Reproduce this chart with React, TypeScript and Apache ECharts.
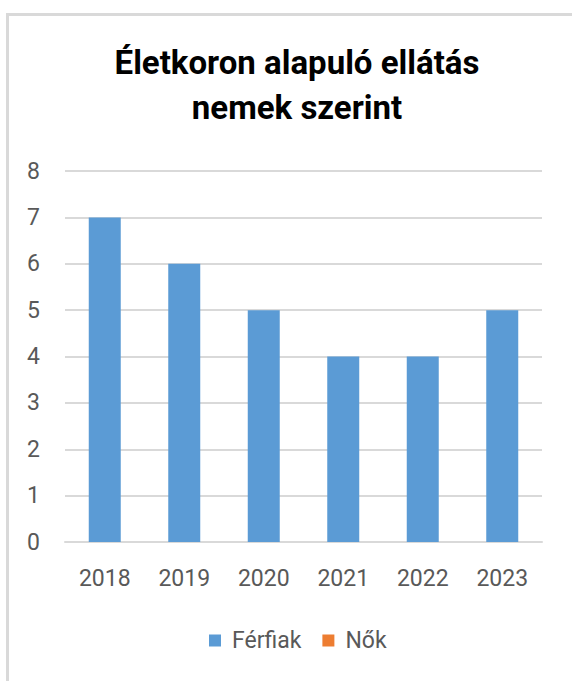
import React, { useEffect, useRef } from "react";
import * as echarts from "echarts";

const categories = ["2018", "2019", "2020", "2021", "2022", "2023"];
const ferfiak = [7, 6, 5, 4, 4, 5];
const nok: (number | null)[] = [null, null, null, null, null, null];
const yTicks = { min: 0, max: 8, interval: 1 };

export default function App() {
  const ref = useRef<HTMLDivElement>(null);
  useEffect(() => {
    if (!ref.current) return;
    const chart = echarts.init(ref.current, null, { renderer: "svg" });
    const axisFont = { fontFamily: "Roboto", fontSize: 23, color: "#595959" };
    chart.setOption({
      animation: false,
      title: {
        text: "Életkoron alapuló ellátás\nnemek szerint",
        left: 292,
        top: 35,
        textAlign: "center",
        textStyle: {
          fontFamily: "Roboto",
          fontWeight: "bold",
          fontSize: 33,
          lineHeight: 45,
          color: "#000000",
        },
      },
      legend: {
        data: ["Férfiak", "Nők"],
        bottom: 29,
        left: 209,
        padding: 0,
        itemWidth: 12,
        itemHeight: 12,
        itemGap: 21,
        icon: "rect",
        textStyle: { ...axisFont, padding: [0, 0, 0, 6] },
      },
      grid: { left: 65, right: 30, top: 171, bottom: 139 },
      xAxis: {
        type: "category",
        data: categories,
        axisTick: { show: false },
        axisLine: { lineStyle: { color: "#d9d9d9", width: 2 } },
        axisLabel: { ...axisFont, margin: 25 },
      },
      yAxis: {
        type: "value",
        min: yTicks.min,
        max: yTicks.max,
        interval: yTicks.interval,
        axisLine: { show: false },
        axisTick: { show: false },
        splitLine: { lineStyle: { color: "#d9d9d9", width: 2 } },
        axisLabel: { ...axisFont, margin: 25 },
      },
      series: [
        {
          name: "Férfiak",
          type: "bar",
          data: ferfiak,
          barWidth: 32,
          barGap: "-100%",
          itemStyle: { color: "#5b9bd5" },
        },
        {
          name: "Nők",
          type: "bar",
          data: nok,
          barWidth: 32,
          barGap: "-100%",
          itemStyle: { color: "#ed7d31" },
        },
      ],
    });
    return () => chart.dispose();
  }, []);
  return (
    <div style={{ position: "fixed", left: 0, top: 0, width: 572, height: 681, overflow: "hidden", background: "#fff" }}>
      <div
        style={{
          position: "absolute",
          left: 6,
          top: 13,
          width: 620,
          height: 720,
          border: "3px solid #d9d9d9",
          boxSizing: "border-box",
        }}
      />
      <div ref={ref} style={{ position: "absolute", left: 0, top: 0, width: 572, height: 681 }} />
    </div>
  );
}
